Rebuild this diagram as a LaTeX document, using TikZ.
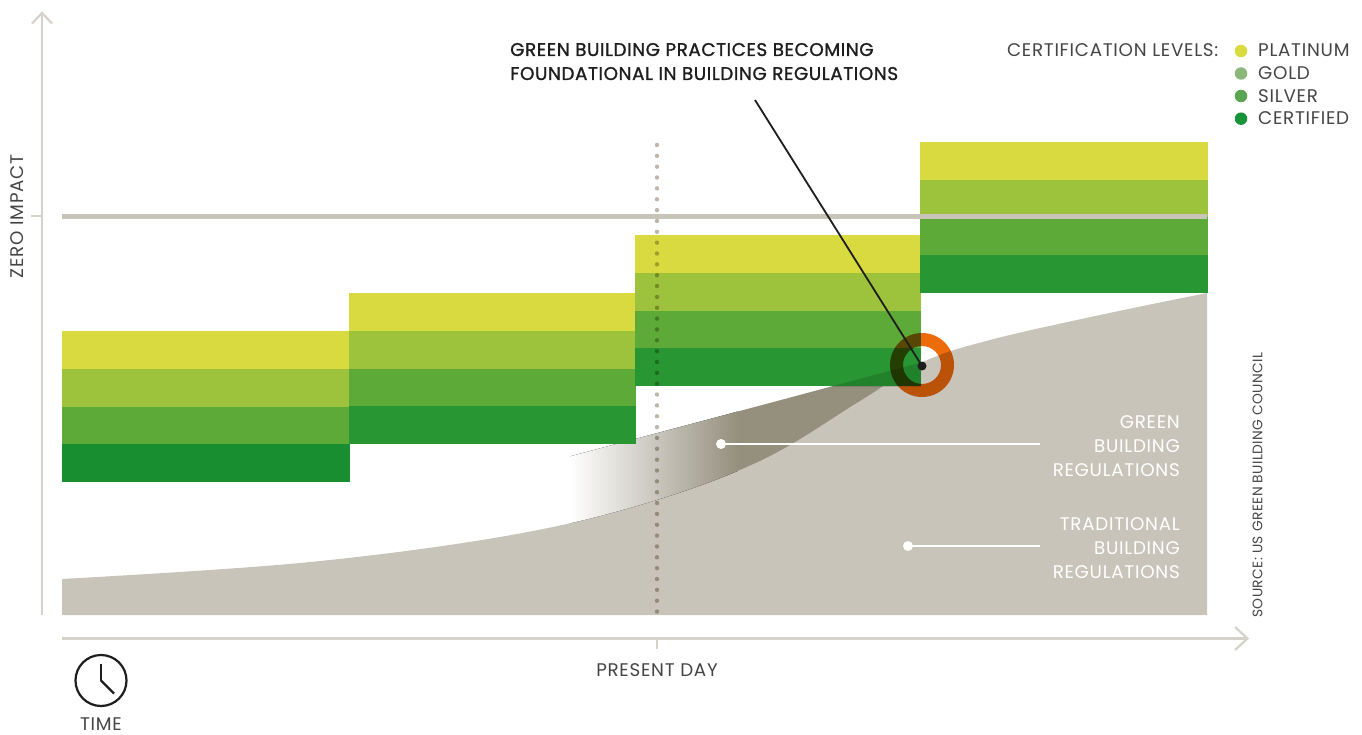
\documentclass[tikz,border=0pt]{standalone}
\usepackage{fontspec}
\setmainfont{Poppins}
\newfontfamily\lblfont{Poppins}[LetterSpace=4]
\newfontfamily\ttlfont{Poppins}[LetterSpace=3, FakeBold=1.2]
\newfontfamily\srcfont{Poppins}[LetterSpace=3]
\definecolor{plat}{HTML}{D9DA40}
\definecolor{gold}{HTML}{9DC23B}
\definecolor{silv}{HTML}{5EAA38}
\definecolor{cert}{HTML}{289632}
\definecolor{certA}{HTML}{188E30}
\definecolor{greyarea}{HTML}{C8C4B9}
\definecolor{bandc}{HTML}{958F7E}
\definecolor{axisc}{HTML}{D6D2CA}
\definecolor{zeroc}{HTML}{C8C4BA}
\definecolor{dotc}{HTML}{BDB7AA}
\definecolor{ringc}{HTML}{EE6B0A}
\definecolor{txt}{HTML}{454545}
\definecolor{ttl}{HTML}{1E1E1E}
\definecolor{lplat}{HTML}{D9DC3F}
\definecolor{lgold}{HTML}{8BB87A}
\definecolor{lsilv}{HTML}{5AA552}
\definecolor{lcert}{HTML}{199339}
\tikzset{
  Tcurve/.style={insert path={-- plot[smooth, tension=0.6] coordinates {(62,579) (300,563) (500,537) (640,505) (760,461) (860,401) (923,362) (990,340) (1100,315) (1207,293)}}},
  lbl/.style={inner sep=0pt, text=txt, font=\lblfont\fontsize{18.3}{20}\selectfont},
  ttlbl/.style={inner sep=0pt, text=ttl, font=\ttlfont\fontsize{18.4}{20}\selectfont},
  wlbl/.style={inner sep=0pt, text=white, font=\lblfont\fontsize{18.3}{20}\selectfont},
  srclbl/.style={inner sep=0pt, text=txt, font=\srcfont\fontsize{13.8}{16}\selectfont},
  axisline/.style={draw=axisc, line width=2.6pt},
  wdot/.style={circle, fill=white, inner sep=0pt, minimum size=10pt},
  wline/.style={draw=white, line width=2.6pt},
  legdot/.style={circle, inner sep=0pt, minimum size=12.5pt},
}
\begin{document}
\begin{tikzpicture}[x=1pt, y=-1pt]
\useasboundingbox (0,0) rectangle (1362,735);
% traditional regulations area
\fill[greyarea] (62,615) [Tcurve] -- (1207,615) -- cycle;
% green regulations band
\begin{scope}
  \clip (570,700) -- (570,456.4) -- (960,352.1) -- (960,700) -- cycle;
  \clip (62,0) [Tcurve] -- (1207,0) -- cycle;
  \fill[left color=white, right color=bandc] (570,300) rectangle (738,560);
  \fill[bandc] (737.5,300) rectangle (970,560);
\end{scope}
% certification columns
\foreach \xa/\xb/\t/\cc in {62/349.5/331/certA, 349/635.5/293/cert, 634.5/921/235/cert, 920/1207.5/142/cert}{
  \fill[plat] (\xa,\t) rectangle (\xb,\t+37.9);
  \fill[gold] (\xa,\t+37.75) rectangle (\xb,\t+75.65);
  \fill[silv] (\xa,\t+75.5) rectangle (\xb,\t+113.4);
  \fill[\cc] (\xa,\t+113.25) rectangle (\xb,\t+151);
}
% darkening where the regulations overlap the boxes
\begin{scope}
  \clip (634.5,235) rectangle (921,386);
  \fill[black, opacity=0.13] (565,457.7) -- (960,352.1) -- (960,700) -- (565,700) -- cycle;
\end{scope}
% zero impact line
\coordinate (zl) at (62,216.5);
\coordinate (zr) at (1207,216.5);
\draw[zeroc, line width=4.6pt] (zl) -- (zr);
% present day dotted line
\coordinate (pdtop) at (657,145);
\coordinate (pdbot) at (657,613);
\begin{scope}[blend mode=multiply]
  \draw[dotc, line width=4.4pt, line cap=round, dash pattern=on 0pt off 10.85pt] (pdtop) -- (pdbot);
\end{scope}
% ring
\begin{scope}[blend mode=multiply]
  \fill[ringc, even odd rule] (922,365) circle[radius=32] (922,365) circle[radius=19];
\end{scope}
% leader
\coordinate (leadstart) at (755,100);
\node[circle, fill=ttl, inner sep=0pt, minimum size=9pt] (pin) at (922,366) {};
\draw[ttl, line width=1.8pt] (leadstart) -- (pin.center);
% white leaders
\node[wdot] (gdot) at (721,444) {};
\coordinate (gend) at (1040,444);
\draw[wline] (gdot.center) -- (gend);
\node[wdot] (tdot) at (908,546) {};
\coordinate (tend) at (1040,546);
\draw[wline] (tdot.center) -- (tend);
\node[wlbl, anchor=base east] (g1) at (1180,428) {GREEN};
\node[wlbl, anchor=base east] (g2) at (1180,452) {BUILDING};
\node[wlbl, anchor=base east] (g3) at (1180,476) {REGULATIONS};
\node[wlbl, anchor=base east] (t1) at (1180,530) {TRADITIONAL};
\node[wlbl, anchor=base east] (t2) at (1180,554) {BUILDING};
\node[wlbl, anchor=base east] (t3) at (1180,578) {REGULATIONS};
% title
\node[ttlbl, anchor=base west] (title1) at (510,56) {GREEN BUILDING PRACTICES BECOMING};
\node[ttlbl, anchor=base west] (title2) at (510,80) {FOUNDATIONAL IN BUILDING REGULATIONS};
% legend
\node[lbl, anchor=base east] (leglab) at (1218.5,56.7) {CERTIFICATION LEVELS:};
\node[legdot, fill=lplat] (dplat) at (1241,51) {};
\node[legdot, fill=lgold] (dgold) at (1241,73.5) {};
\node[legdot, fill=lsilv] (dsilv) at (1241,96) {};
\node[legdot, fill=lcert] (dcert) at (1241,118.7) {};
\node[lbl, anchor=base west] (lplatt) at (1258,56.7) {PLATINUM};
\node[lbl, anchor=base west] (lgoldt) at (1258,79.3) {GOLD};
\node[lbl, anchor=base west] (lsilvt) at (1258,102.3) {SILVER};
\node[lbl, anchor=base west] (lcertt) at (1258,124.3) {CERTIFIED};
% axes
\coordinate (ybot) at (42,615);
\coordinate (ytop) at (42,13);
\draw[axisline] (ybot) -- (ytop);
\coordinate (yal) at (32,23.5);
\coordinate (yar) at (52,23.5);
\draw[axisc, line width=2.2pt] (yal) -- (ytop) -- (yar);
\coordinate (ytick) at (31,216.5);
\coordinate (ytickr) at (42,216.5);
\draw[axisc, line width=2pt] (ytick) -- (ytickr);
\coordinate (xl) at (62,638.5);
\coordinate (xr) at (1247.5,638.5);
\draw[axisline] (xl) -- (xr);
\coordinate (xau) at (1235,627);
\coordinate (xad) at (1235,650);
\draw[axisc, line width=2.2pt] (xau) -- (xr) -- (xad);
\coordinate (xt1) at (657,638.5);
\coordinate (xt2) at (657,649);
\draw[axisc, line width=2.2pt] (xt1) -- (xt2);
\node[lbl, rotate=90] (zi) at (17.5,216.5) {ZERO IMPACT};
\node[srclbl, rotate=90] (src) at (1257.5,485) {SOURCE: US GREEN BUILDING COUNCIL};
\node[lbl, anchor=base] (pday) at (657,676) {PRESENT DAY};
% clock
\node[draw=ttl, circle, line width=2.2pt, minimum size=51pt, inner sep=0pt] (clock) at (101,680.5) {};
\draw[ttl, line width=2.2pt] (clock.center) -- ++(0,-17);
\draw[ttl, line width=2.2pt] (clock.center) -- ++(13,13);
\node[lbl, anchor=base] (time) at (101,730.5) {TIME};
\end{tikzpicture}
\end{document}
